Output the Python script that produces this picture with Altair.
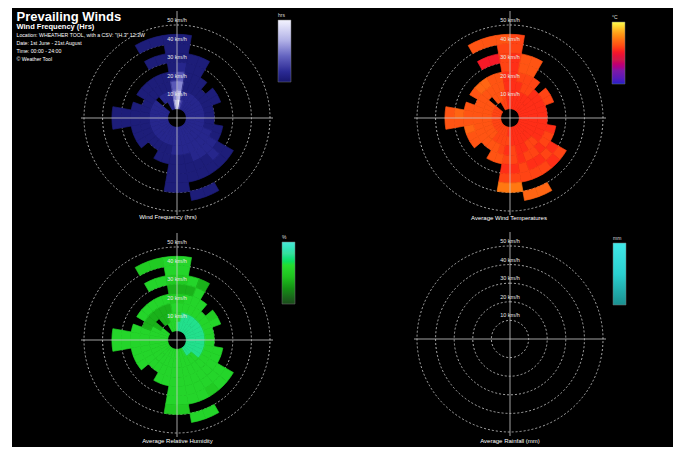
import altair as alt
import pandas as pd

FONT = "Liberation Sans"

# ---------------- data ----------------
SECTOR_START = list(range(0, 360, 10))           # compass direction of each 10° sector
SPEED_LO = [5, 10, 15, 20, 25, 30, 35, 40]       # km/h, inner edge of radial bin
SPEED_HI = [10, 15, 20, 25, 30, 35, 40, 45]      # km/h, outer edge of radial bin
RING_SPEEDS = [10, 20, 30, 40, 50]
RING_LABELS = ["10 km/h", "20 km/h", "30 km/h", "40 km/h", "50 km/h"]

# one string per sector, one character per radial bin ('.' = no data)
FREQ_LEVELS = {"0": 3, "1": 8, "2": 14, "3": 22, "4": 32, "5": 44, "6": 58}   # hours
FREQ_GRID = [
    "65431000", "210000", "110000", "1100", "110", "1100", "1100", "110", "110", "110",
    "1100", "1110", "111100", "111110", "111100", "111100.0", "111000.0", "1110000",
    "1110000", "1100", "1100", "110", "110", "1100", "1100", "1100", "110000", "110000",
    "1100", "110", "1100", "..00", ".100", "1100.0.0", "1100.0.0", "54310000",
]

TEMP_LEVELS = {"2": 22.0, "4": 23.5, "5": 24.8, "6": 26.0, "7": 27.5, "8": 29.0}   # °C
TEMP_GRID = [
    "44444455", "444566", "445566", "4455", "444", "4445", "4445", "444", "444", "444",
    "4444", "4445", "444545", "445454", "445545", "444545.7", "444455.7", "4455458",
    "4545458", "5556", "5566", "556", "566", "5666", "5666", "5667", "566666", "566676",
    "5666", "566", "5666", "..67", ".667", "5666.2.6", "5566.2.6", "44445556",
]

HUM_LEVELS = {"3": 50, "5": 60, "6": 66, "8": 82, "9": 90}   # %
HUM_GRID = [
    "86653566", "886636", "886663", "8866", "886", "8865", "8866", "886", "886", "886",
    "8866", "8866", "886666", "866666", "866665", "666666.6", "666666.6", "6666665",
    "6666665", "6666", "6666", "666", "666", "6666", "6666", "6666", "666666", "666666",
    "6666", "663", "6336", "..36", ".336", "6336.6.5", "6636.6.5", "66653566",
]

RAIN_VALUES = []   # no rainfall recorded in the period

# ---------------- layout ----------------
VIEW_W, VIEW_H = 661, 439
PANELS = {
    "freq": (165, 110),
    "temp": (498, 110),
    "hum": (165, 332),
    "rain": (498, 331),
}
R_MAX = 93

rs = alt.Scale(type="linear", domain=[0, 50], range=[0, R_MAX])
ts = alt.Scale(type="linear", domain=[0, 360], range=[0, 6.283185307])


def cell_table(grid, levels, field):
    rows = []
    for s, row in zip(SECTOR_START, grid):
        for i, ch in enumerate(row):
            if ch == ".":
                continue
            rows.append({"a0": s, "a1": s + 10, "r0": SPEED_LO[i], "r1": SPEED_HI[i], field: levels[ch]})
    return pd.DataFrame(rows)


def legend(title, lx, ly):
    return alt.Legend(
        type="gradient",
        orient="none", legendX=lx, legendY=ly, direction="vertical",
        title=title, titleFontSize=5, titleColor="#dddddd", titleFont=FONT,
        titlePadding=2, titleFontWeight="normal",
        gradientLength=62, gradientThickness=13, labelOpacity=0, labelFontSize=4,
        padding=0, gradientStrokeColor="#777777", gradientStrokeWidth=0.5,
    )


def cells(df, field, scale, leg, key):
    cx, cy = PANELS[key]
    enc = dict(
        theta=alt.Theta("a0:Q", scale=ts, stack=None),
        theta2="a1:Q",
        radius=alt.Radius("r1:Q", scale=rs, stack=None),
        radius2="r0:Q",
        x=alt.value(cx), y=alt.value(cy),
    )
    fill = alt.Chart(df).mark_arc(strokeWidth=0).encode(
        color=alt.Color(f"{field}:Q", scale=scale, legend=leg), **enc)
    edge = alt.Chart(df).mark_arc(filled=False, strokeWidth=0.7).encode(
        color=alt.Color(f"{field}:Q", scale=scale, legend=None), **enc)
    return [fill, edge]


rings_df = pd.DataFrame({"v": RING_SPEEDS, "lab": RING_LABELS})


def rings(key):
    cx, cy = PANELS[key]
    return alt.Chart(rings_df).mark_arc(
        filled=False, stroke="#cfcfcf", strokeWidth=0.8, strokeDash=[2, 2],
        theta=0, theta2=6.2832,
    ).encode(radius=alt.Radius("v:Q", scale=rs, stack=None), x=alt.value(cx), y=alt.value(cy))


def ring_labels(key):
    cx, cy = PANELS[key]
    return alt.Chart(rings_df).mark_text(
        theta=0, dy=-5, fontSize=5.5, font=FONT, color="#e8e8e8",
    ).encode(radius=alt.Radius("v:Q", scale=rs, stack=None), text="lab:N",
             x=alt.value(cx), y=alt.value(cy))


def cross(key):
    cx, cy = PANELS[key]
    base = alt.Chart(pd.DataFrame({"k": [0]}))
    h = base.mark_rule(color="#cccccc", strokeWidth=0.8).encode(
        x=alt.value(cx - 96), x2=alt.value(cx + 96), y=alt.value(cy))
    v = base.mark_rule(color="#cccccc", strokeWidth=0.8).encode(
        x=alt.value(cx), y=alt.value(cy - 107), y2=alt.value(cy + 97))
    return [h, v]


def label(text, x, y, size, bold=False, align="left", color="#ffffff"):
    return alt.Chart(pd.DataFrame({"t": [text]})).mark_text(
        fontSize=size, font=FONT, fontWeight="bold" if bold else "normal",
        align=align, baseline="alphabetic", color=color,
    ).encode(text="t:N", x=alt.value(x), y=alt.value(y))


freq_scale = alt.Scale(domain=[0, 10, 25, 40, 60],
                       range=["#17176e", "#2a2a94", "#6464c0", "#b0b0e6", "#f4f4ff"])
temp_scale = alt.Scale(domain=[5, 12, 18, 23, 28, 33, 38],
                       range=["#1a20c8", "#7a1aa8", "#d01848", "#ff2218", "#ff6a14", "#ffaa20", "#ffff50"])
hum_scale = alt.Scale(domain=[20, 40, 55, 70, 85, 100],
                      range=["#1a4a1a", "#139013", "#1ec21e", "#26dc2e", "#35e09c", "#4de8d8"])
rain_scale = alt.Scale(domain=[0, 0.5, 1],
                       range=["#1a9090", "#2ad0d0", "#40e8e8"])

freq_df = cell_table(FREQ_GRID, FREQ_LEVELS, "freq")
temp_df = cell_table(TEMP_GRID, TEMP_LEVELS, "temp")
hum_df = cell_table(HUM_GRID, HUM_LEVELS, "hum")
rain_df = pd.DataFrame({"a0": pd.Series(dtype=float), "a1": pd.Series(dtype=float),
                        "r0": pd.Series(dtype=float), "r1": pd.Series(dtype=float),
                        "rain": pd.Series(RAIN_VALUES, dtype=float)})

layers = []
for key in PANELS:
    layers.append(rings(key))
layers += cells(freq_df, "freq", freq_scale, legend("hrs", 266, 5), "freq")
layers += cells(temp_df, "temp", temp_scale, legend("°C", 600, 7), "temp")
layers += cells(hum_df, "hum", hum_scale, legend("%", 270, 227), "hum")
layers += cells(rain_df, "rain", rain_scale, legend("mm", 601, 228), "rain")
for key in PANELS:
    layers += cross(key)
    layers.append(ring_labels(key))

layers += [
    label("Prevailing Winds", 4.5, 12.5, 13, bold=True),
    label("Wind Frequency (Hrs)", 4.5, 21, 7.5, bold=True),
    label("Location:  WHEATHER TOOL, with a CSV: \"(H.3\"  12.3W", 4.5, 29, 5.2),
    label("Date:  1st June - 21st August", 4.5, 37, 5.2),
    label("Time:  00:00 - 24:00", 4.5, 45, 5.2),
    label("\u00a9 Weather Tool", 4.5, 53, 5.2),
    label("Wind Frequency (hrs)", 156, 211, 6, align="center"),
    label("Average Wind Temperatures", 497, 212, 6, align="center"),
    label("Average Relative Humidity", 165.5, 435, 6, align="center"),
    label("Average Rainfall (mm)", 498, 435, 6, align="center"),
]

chart = alt.layer(*layers).resolve_scale(color="independent").properties(
    width=VIEW_W, height=VIEW_H,
    autosize=alt.AutoSizeParams(type="none"),
    padding={"left": 4, "top": 0, "right": 0, "bottom": 0},
    background="#ffffff",
).configure_view(fill="#000000", stroke=None)

chart.save("out.html", embed_options={"renderer": "svg", "actions": False})
